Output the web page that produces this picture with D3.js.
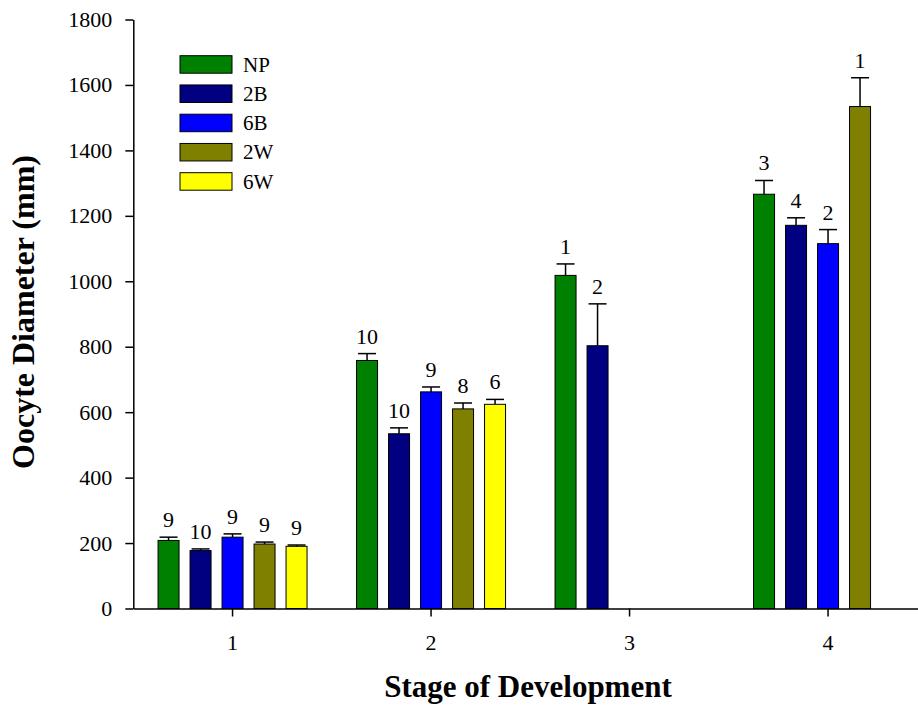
<!DOCTYPE html>
<html>
<head>
<meta charset="utf-8">
<script src="https://cdn.jsdelivr.net/npm/d3@7"></script>
<style>
  body { margin: 0; background: #fff; }
  svg { display: block; }
  svg text { font-family: "Liberation Serif", "Times New Roman", serif !important; fill: #000; }
</style>
</head>
<body>
<svg id="chart" width="918" height="717"></svg>
<script>
// ---- Data ----
const stages = ["1", "2", "3", "4"];
const seriesNames = ["NP", "2B", "6B", "2W", "6W"];
const seriesColors = ["#008000", "#000080", "#0000FF", "#808000", "#FFFF00"];

const NP_mean = [208, 758, 1018, 1266];
const NP_err  = [10, 21, 35, 42];
const NP_n    = ["9", "10", "1", "3"];

const B2_mean = [177, 534, 803, 1171];
const B2_err  = [5, 18, 128, 23];
const B2_n    = ["10", "10", "2", "4"];

const B6_mean = [218, 662, null, 1115];
const B6_err  = [10, 15, null, 43];
const B6_n    = ["9", "9", null, "2"];

const W2_mean = [197, 610, null, 1534];
const W2_err  = [6, 18, null, 88];
const W2_n    = ["9", "8", null, "1"];

const W6_mean = [190, 624, null, null];
const W6_err  = [4, 15, null, null];
const W6_n    = ["9", "6", null, null];

const yTicks = [0, 200, 400, 600, 800, 1000, 1200, 1400, 1600, 1800];

const allMeans = [NP_mean, B2_mean, B6_mean, W2_mean, W6_mean];
const allErrs  = [NP_err, B2_err, B6_err, W2_err, W6_err];
const allN     = [NP_n, B2_n, B6_n, W2_n, W6_n];

// ---- Build records ----
const records = [];
seriesNames.forEach((s, si) => {
  stages.forEach((st, gi) => {
    const v = allMeans[si][gi];
    if (v != null) records.push({series: s, si, stage: st, value: v, err: allErrs[si][gi], n: allN[si][gi], color: seriesColors[si]});
  });
});

// ---- Scales ----
const svg = d3.select("#chart");
const x = d3.scaleBand().domain(stages).range([133.3, 927.3]).padding(0);
const slot = d3.scaleBand().domain(seriesNames).range([-80, 80]).paddingInner(11/32).paddingOuter(11/64);
const y = d3.scaleLinear().domain([0, 1800]).range([608.5, 19.5]);

const barW = slot.bandwidth();
const capW = 18;

// ---- Bars ----
const g = svg.append("g");
g.selectAll("rect.bar").data(records).join("rect")
  .attr("class", "bar")
  .attr("x", d => x(d.stage) + x.bandwidth() / 2 + slot(d.series))
  .attr("y", d => y(d.value))
  .attr("width", barW)
  .attr("height", d => y(0) - y(d.value))
  .attr("fill", d => d.color)
  .attr("stroke", "#000")
  .attr("stroke-width", 1);

// error bars
const cx = d => x(d.stage) + x.bandwidth() / 2 + slot(d.series) + barW / 2;
g.selectAll("line.err").data(records).join("line")
  .attr("x1", cx).attr("x2", cx)
  .attr("y1", d => y(d.value)).attr("y2", d => y(d.value + d.err))
  .attr("stroke", "#000").attr("stroke-width", 1.5);
g.selectAll("line.cap").data(records).join("line")
  .attr("x1", d => cx(d) - capW / 2).attr("x2", d => cx(d) + capW / 2)
  .attr("y1", d => y(d.value + d.err)).attr("y2", d => y(d.value + d.err))
  .attr("stroke", "#000").attr("stroke-width", 1.5);

// n labels
g.selectAll("text.n").data(records).join("text")
  .attr("class", "n")
  .attr("x", cx)
  .attr("y", d => y(d.value + d.err) - 10)
  .attr("text-anchor", "middle")
  .style("font-size", "22px")
  .text(d => d.n);

// ---- Axes ----
const yAxis = svg.append("g")
  .attr("transform", "translate(133.3,0)")
  .call(d3.axisLeft(y).tickValues(yTicks).tickSize(8).tickSizeOuter(0).tickPadding(13).tickFormat(d3.format("d")));
yAxis.attr("font-family", null).attr("font-size", null);
yAxis.selectAll("text").style("font-size", "22px");
yAxis.select(".domain").attr("stroke-width", 1.5);
yAxis.selectAll(".tick line").attr("stroke-width", 1.5);

const xAxis = svg.append("g")
  .attr("transform", "translate(0,608.5)")
  .call(d3.axisBottom(x).tickSize(8).tickSizeOuter(0).tickPadding(18));
xAxis.attr("font-family", null).attr("font-size", null);
xAxis.selectAll("text").style("font-size", "22px");
xAxis.select(".domain").attr("stroke-width", 1.5);
xAxis.selectAll(".tick line").attr("stroke-width", 1.5);

// ---- Axis titles ----
svg.append("text")
  .attr("transform", "translate(33.5,312) rotate(-90)")
  .attr("text-anchor", "middle")
  .style("font-size", "32px")
  .style("font-weight", "bold")
  .text("Oocyte Diameter (mm)");

svg.append("text")
  .attr("x", 528).attr("y", 697)
  .attr("text-anchor", "middle")
  .style("font-size", "31px")
  .style("font-weight", "bold")
  .text("Stage of Development");

// ---- Legend ----
const legend = svg.append("g");
const leg = legend.selectAll("g").data(seriesNames).join("g")
  .attr("transform", (d, i) => `translate(180,${55.7 + i * 29.25})`);
leg.append("rect")
  .attr("width", 52).attr("height", 17.5)
  .attr("fill", (d, i) => seriesColors[i])
  .attr("stroke", "#000").attr("stroke-width", 1);
leg.append("text")
  .attr("x", 63).attr("y", 16)
  .style("font-size", "21px")
  .text(d => d);
</script>
</body>
</html>
